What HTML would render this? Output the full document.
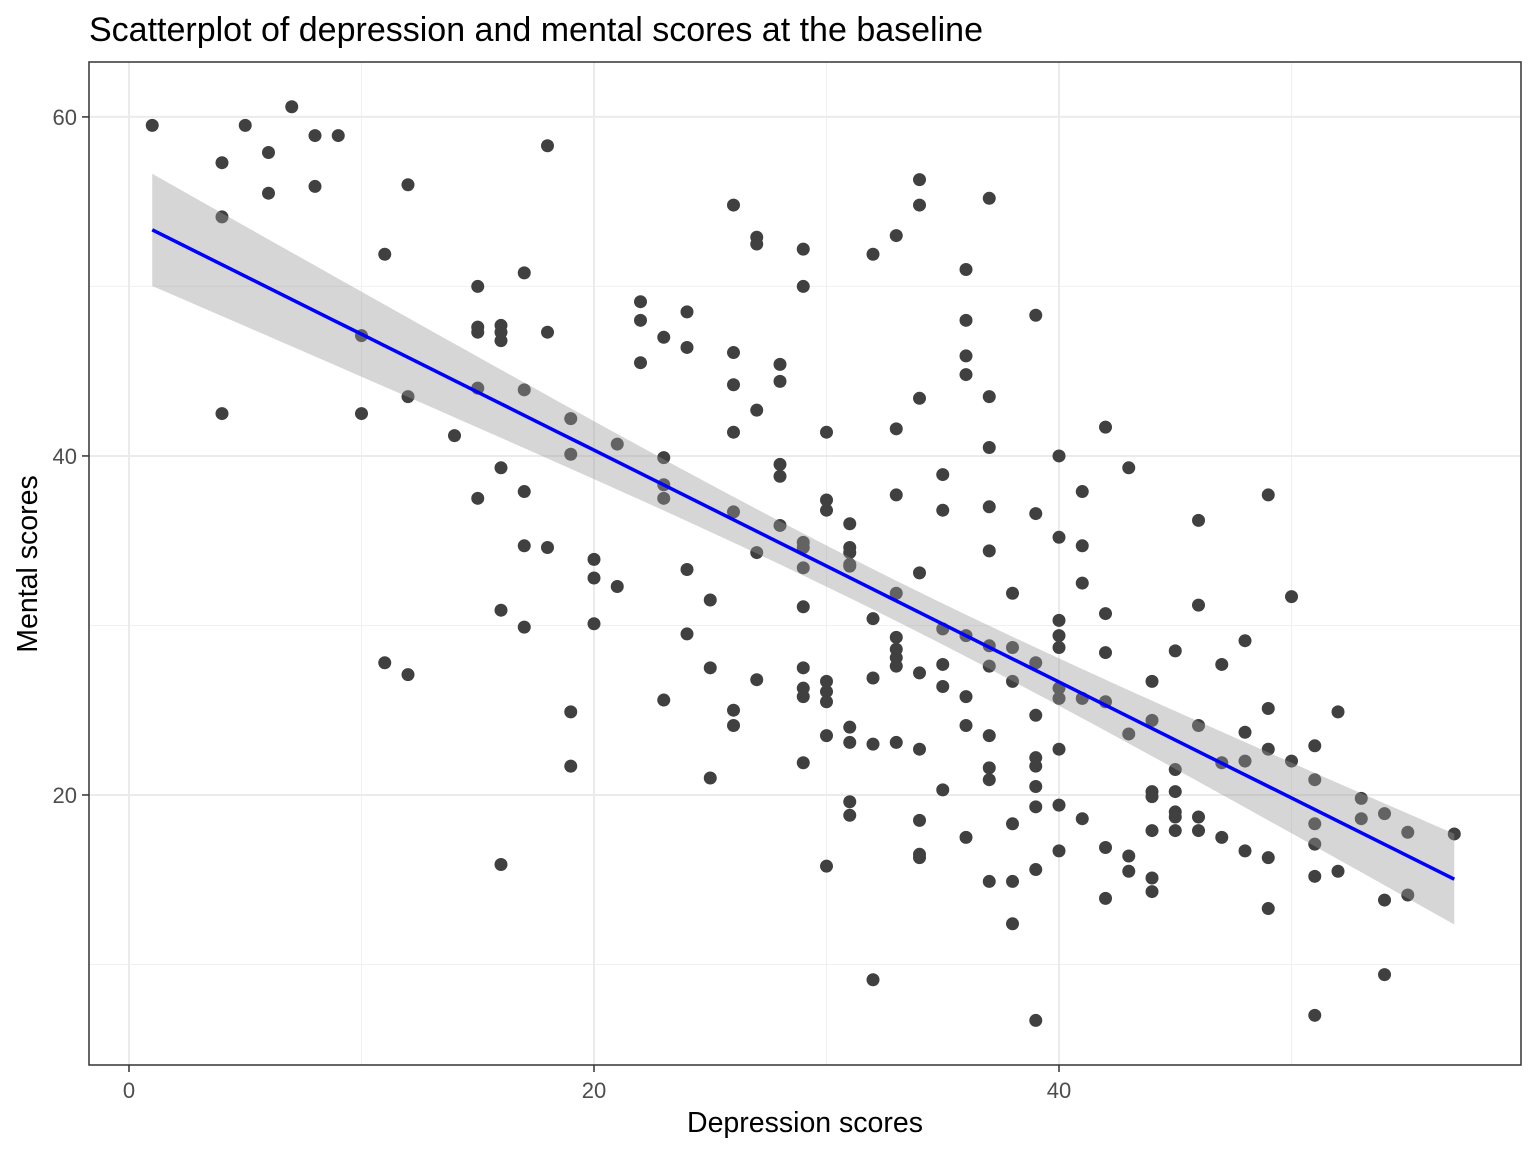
<!DOCTYPE html>
<html><head><meta charset="utf-8"><style>
body{margin:0;background:#fff;}
svg{display:block;font-family:"Liberation Sans",Arial,sans-serif;}
</style></head><body>
<svg id="chart" width="1536" height="1152" viewBox="0 0 1536 1152" xmlns="http://www.w3.org/2000/svg">
<rect width="1536" height="1152" fill="#fff"/>
<text x="89" y="41" font-size="34" fill="#000">Scatterplot of depression and mental scores at the baseline</text>
<g id="grid"></g><g id="pts"></g><g id="fit"></g><g id="axes"></g>
<text x="805" y="1132" font-size="28.5" text-anchor="middle" fill="#000">Depression scores</text>
<text transform="translate(37,564) rotate(-90)" font-size="28.5" text-anchor="middle" fill="#000">Mental scores</text>
</svg>
<script>
const depressionX = [1,4,4,4,5,6,6,7,8,8,9,10,10,11,11,12,12,12,14,15,15,15,15,15,16,16,16,16,16,16,17,17,17,17,17,18,18,18,19,19,19,19,20,20,20,21,21,22,22,22,23,23,23,23,23,24,24,24,24,25,25,25,26,26,26,26,26,26,26,27,27,27,27,27,28,28,28,28,28,29,29,29,29,29,29,29,29,29,29,30,30,30,30,30,30,30,30,31,31,31,31,31,31,31,31,31,32,32,32,32,32,33,33,33,33,33,33,33,33,33,34,34,34,34,34,34,34,34,34,35,35,35,35,35,35,36,36,36,36,36,36,36,36,37,37,37,37,37,37,37,37,37,37,37,38,38,38,38,38,38,39,39,39,39,39,39,39,39,39,39,40,40,40,40,40,40,40,40,40,40,41,41,41,41,41,42,42,42,42,42,42,43,43,43,43,44,44,44,44,44,44,44,45,45,45,45,45,45,46,46,46,46,46,47,47,47,48,48,48,48,49,49,49,49,49,50,50,51,51,51,51,51,51,52,52,53,53,54,54,54,55,55,57];
const mentalY = [59.5,57.3,54.1,42.5,59.5,57.9,55.5,60.6,58.9,55.9,58.9,47.1,42.5,51.9,27.8,56.0,43.5,27.1,41.2,50.0,47.6,47.3,44.0,37.5,47.7,47.3,46.8,39.3,30.9,15.9,50.8,43.9,37.9,34.7,29.9,58.3,47.3,34.6,42.2,40.1,24.9,21.7,33.9,32.8,30.1,40.7,32.3,49.1,48.0,45.5,47.0,39.9,38.3,37.5,25.6,48.5,46.4,33.3,29.5,31.5,27.5,21.0,54.8,46.1,44.2,41.4,36.7,25.0,24.1,52.9,52.5,42.7,34.3,26.8,45.4,44.4,39.5,38.8,35.9,52.2,50.0,34.9,34.6,33.4,31.1,27.5,26.3,25.8,21.9,41.4,37.4,36.8,26.7,26.1,25.5,23.5,15.8,36.0,34.6,34.3,33.6,33.5,24.0,23.1,19.6,18.8,51.9,30.4,26.9,23.0,9.1,53.0,41.6,37.7,31.9,29.3,28.6,28.1,27.6,23.1,56.3,54.8,43.4,33.1,27.2,22.7,18.5,16.5,16.3,38.9,36.8,29.8,27.7,26.4,20.3,51.0,48.0,45.9,44.8,29.4,25.8,24.1,17.5,55.2,43.5,40.5,37.0,34.4,28.8,27.6,23.5,21.6,20.9,14.9,31.9,28.7,26.7,18.3,14.9,12.4,48.3,36.6,27.8,24.7,22.2,21.7,20.5,19.3,15.6,6.7,40.0,35.2,30.3,29.4,28.7,26.3,25.7,22.7,19.4,16.7,37.9,34.7,32.5,25.7,18.6,41.7,30.7,28.4,25.5,16.9,13.9,39.3,23.6,16.4,15.5,26.7,24.4,20.2,19.9,17.9,15.1,14.3,28.5,21.5,20.2,19.0,18.7,17.9,36.2,31.2,24.1,18.7,17.9,27.7,21.9,17.5,29.1,23.7,22.0,16.7,37.7,25.1,22.7,16.3,13.3,31.7,22.0,22.9,20.9,18.3,17.1,15.2,7.0,24.9,15.5,19.8,18.6,18.9,13.8,9.4,17.8,14.1,17.7];
const xTickLabels = ["0","20","40"];
const xTickValues = [0,20,40];
const yTickLabels = ["20","40","60"];
const yTickValues = [20,40,60];
const xMinorValues = [10,30,50];
const yMinorValues = [10,30,50];

const NS="http://www.w3.org/2000/svg";
const PL=89,PR=1521,PT=62,PB=1065;
const X0=-1.72,X1=59.87,Y0=4.07,Y1=63.24;
const sx=v=>PL+(v-X0)/(X1-X0)*(PR-PL);
const sy=v=>PB-(v-Y0)/(Y1-Y0)*(PB-PT);
function mk(tag,attrs,parent){const e=document.createElementNS(NS,tag);for(const k in attrs)e.setAttribute(k,attrs[k]);parent.appendChild(e);return e;}
const grid=document.getElementById('grid'),pts=document.getElementById('pts'),fit=document.getElementById('fit'),axes=document.getElementById('axes');
mk('rect',{x:PL,y:PT,width:PR-PL,height:PB-PT,fill:'#fff'},grid);
xMinorValues.forEach(v=>{const l=mk('line',{x1:sx(v),x2:sx(v),y1:PT,y2:PB,stroke:'#f0f0f0','stroke-width':1},grid);

});
yMinorValues.forEach(v=>{const l=mk('line',{y1:sy(v),y2:sy(v),x1:PL,x2:PR,stroke:'#f0f0f0','stroke-width':1},grid);

});
xTickValues.forEach(v=>{const l=mk('line',{x1:sx(v),x2:sx(v),y1:PT,y2:PB,stroke:'#ebebeb','stroke-width':2},grid);

});
yTickValues.forEach(v=>{const l=mk('line',{y1:sy(v),y2:sy(v),x1:PL,x2:PR,stroke:'#ebebeb','stroke-width':2},grid);

});

depressionX.forEach((x,i)=>{const c=mk('circle',{cx:sx(x),cy:sy(mentalY[i]),r:6.5,fill:'#404040'},pts);

});

const n=depressionX.length;
let mx=0,my=0;for(let i=0;i<n;i++){mx+=depressionX[i];my+=mentalY[i];}mx/=n;my/=n;
let sxx=0,sxy=0;for(let i=0;i<n;i++){sxx+=(depressionX[i]-mx)**2;sxy+=(depressionX[i]-mx)*(mentalY[i]-my);}
const b=sxy/sxx,a=my-b*mx;
let sse=0;for(let i=0;i<n;i++){sse+=(mentalY[i]-a-b*depressionX[i])**2;}
const s=Math.sqrt(sse/(n-2)),t=1.97;
const xmin=Math.min(...depressionX),xmax=Math.max(...depressionX);
const up=[],lo=[],mid=[];
for(let k=0;k<=80;k++){const x=xmin+(xmax-xmin)*k/80;const y=a+b*x;const se=s*Math.sqrt(1/n+(x-mx)**2/sxx);
up.push(sx(x)+','+sy(y+t*se));lo.unshift(sx(x)+','+sy(y-t*se));mid.push(sx(x)+','+sy(y));}
const band=mk('polygon',{points:up.concat(lo).join(' '),fill:'#999999','fill-opacity':0.4},fit);


const line=mk('polyline',{points:mid.join(' '),fill:'none',stroke:'#0000ff','stroke-width':3.5},fit);



const border=mk('rect',{x:PL,y:PT,width:PR-PL,height:PB-PT,fill:'none',stroke:'#333','stroke-width':1.5},axes);


xTickValues.forEach((v,i)=>{mk('line',{x1:sx(v),x2:sx(v),y1:PB,y2:PB+7,stroke:'#333','stroke-width':1.5},axes);
const tx=mk('text',{x:sx(v),y:PB+33,'font-size':22,'text-anchor':'middle',fill:'#4d4d4d'},axes);tx.textContent=xTickLabels[i];

});
yTickValues.forEach((v,i)=>{mk('line',{x1:PL-7,x2:PL,y1:sy(v),y2:sy(v),stroke:'#333','stroke-width':1.5},axes);
const tx=mk('text',{x:PL-12,y:sy(v)+8,'font-size':22,'text-anchor':'end',fill:'#4d4d4d'},axes);tx.textContent=yTickLabels[i];

});
</script>
</body></html>
